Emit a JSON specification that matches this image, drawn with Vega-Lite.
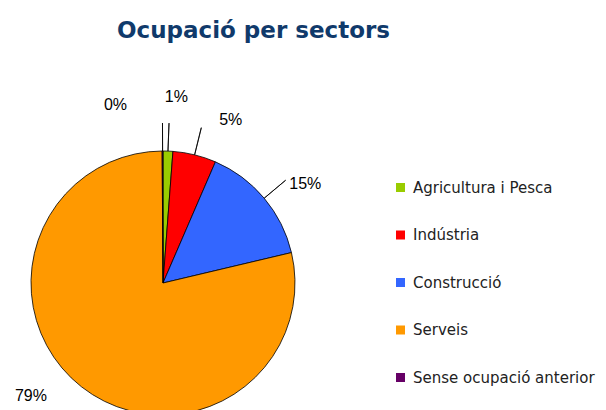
{
  "$schema": "https://vega.github.io/schema/vega-lite/v6.json",
  "autosize": "none",
  "width": 326,
  "height": 254,
  "padding": {"top": 156, "left": 0, "right": 280, "bottom": 0},
  "background": "white",
  "title": {
    "text": "Ocupació per sectors",
    "anchor": "start",
    "frame": "group",
    "dx": 117,
    "offset": 46,
    "font": "DejaVu Sans",
    "fontSize": 23,
    "fontWeight": "bold",
    "color": "#103a6b"
  },
  "data": {
    "values": [
      {"sector": "Agricultura i Pesca", "v": 1.2, "o": 1},
      {"sector": "Indústria", "v": 5.3, "o": 2},
      {"sector": "Construcció", "v": 14.8, "o": 3},
      {"sector": "Serveis", "v": 78.6, "o": 4},
      {"sector": "Sense ocupació anterior", "v": 0.1, "o": 5}
    ]
  },
  "transform": [
    {"stack": "v", "groupby": [], "sort": [{"field": "o", "order": "ascending"}], "as": ["s", "e"]},
    {"calculate": "(datum.s + datum.e) / 2", "as": "m"},
    {"calculate": "format(datum.v, '.0f') + '%'", "as": "lab"}
  ],
  "layer": [
    {
      "mark": {"type": "arc", "outerRadius": 132, "stroke": "#000", "strokeWidth": 0.8},
      "encoding": {
        "theta": {"field": "s", "type": "quantitative", "stack": null, "scale": {"domain": [0, 100]}},
        "theta2": {"field": "e"},
        "color": {
          "field": "sector",
          "type": "nominal",
          "sort": null,
          "scale": {
            "domain": ["Agricultura i Pesca", "Indústria", "Construcció", "Serveis", "Sense ocupació anterior"],
            "range": ["#99cc00", "#ff0000", "#3366ff", "#ff9900", "#660066"]
          },
          "legend": {
            "title": null,
            "orient": "none",
            "legendX": 393,
            "legendY": 24,
            "padding": 0,
            "symbolType": "square",
            "symbolSize": 81,
            "symbolStrokeWidth": 0,
            "labelFont": "DejaVu Sans",
            "labelFontSize": 15,
            "labelColor": "#222",
            "labelOffset": 5,
            "rowPadding": 31.5,
            "labelLimit": 300
          }
        }
      }
    },
    {
      "transform": [{"filter": "datum.o <= 3 || datum.o == 5"}],
      "mark": {"type": "arc", "innerRadius": 132, "outerRadius": 160, "stroke": "#000", "strokeWidth": 0.8, "fill": null},
      "encoding": {
        "theta": {"field": "m", "type": "quantitative", "stack": null},
        "theta2": {"field": "m"}
      }
    },
    {
      "transform": [{"filter": "datum.o == 1"}],
      "mark": {"type": "text", "radius": 170, "dx": 7, "dy": -16, "font": "Liberation Sans", "fontSize": 16, "color": "#000", "align": "center", "baseline": "middle"},
      "encoding": {"theta": {"field": "m", "type": "quantitative", "stack": null}, "text": {"field": "lab"}}
    },
    {
      "transform": [{"filter": "datum.o == 2"}],
      "mark": {"type": "text", "radius": 170, "dx": 27, "dy": 2, "font": "Liberation Sans", "fontSize": 16, "color": "#000", "align": "center", "baseline": "middle"},
      "encoding": {"theta": {"field": "m", "type": "quantitative", "stack": null}, "text": {"field": "lab"}}
    },
    {
      "transform": [{"filter": "datum.o == 3"}],
      "mark": {"type": "text", "radius": 170, "dx": 12, "dy": 10, "font": "Liberation Sans", "fontSize": 16, "color": "#000", "align": "center", "baseline": "middle"},
      "encoding": {"theta": {"field": "m", "type": "quantitative", "stack": null}, "text": {"field": "lab"}}
    },
    {
      "transform": [{"filter": "datum.o == 4"}],
      "mark": {"type": "text", "radius": 170, "dx": -27, "dy": -21, "font": "Liberation Sans", "fontSize": 16, "color": "#000", "align": "center", "baseline": "middle"},
      "encoding": {"theta": {"field": "m", "type": "quantitative", "stack": null}, "text": {"field": "lab"}}
    },
    {
      "transform": [{"filter": "datum.o == 5"}],
      "mark": {"type": "text", "radius": 170, "dx": -47, "dy": -8, "font": "Liberation Sans", "fontSize": 16, "color": "#000", "align": "center", "baseline": "middle"},
      "encoding": {"theta": {"field": "m", "type": "quantitative", "stack": null}, "text": {"field": "lab"}}
    }
  ],
  "config": {"view": {"stroke": null}}
}
